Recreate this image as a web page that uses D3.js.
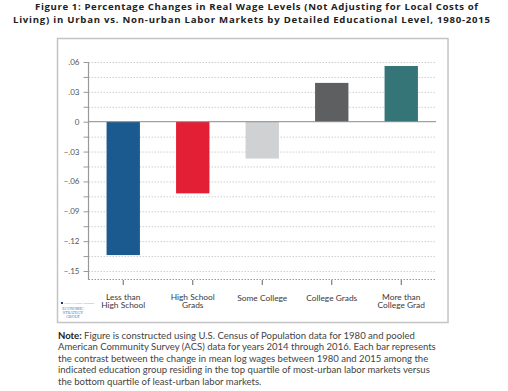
<!DOCTYPE html>
<html><head><meta charset="utf-8">
<script src="https://cdn.jsdelivr.net/npm/d3@7"></script>
<style>
body{margin:0;background:#fff;}
svg{display:block;font-family:Lato,"Open Sans",sans-serif;}
</style></head>
<body><svg id="c" width="508" height="391"></svg>
<script>
const categories = [["Less than","High School"],["High School","Grads"],["Some College"],["College Grads"],["More than","College Grad"]];
const values = [-0.134, -0.072, -0.037, 0.039, 0.056];
const colors = ["#1b5a8f","#e31f35","#d0d1d3","#5e5f61","#357577"];
const gridTicks = [0.06,0.045,0.03,0.015,0,-0.015,-0.03,-0.045,-0.06,-0.075,-0.09,-0.105,-0.12,-0.135,-0.15];
const labelTicks = [0.06,0.03,0,-0.03,-0.06,-0.09,-0.12,-0.15];
const titleLines = ["Figure 1: Percentage Changes in Real Wage Levels (Not Adjusting for Local Costs of","Living) in Urban vs. Non-urban Labor Markets by Detailed Educational Level, 1980-2015"];
const noteLines = ["Figure is constructed using U.S. Census of Population data for 1980 and pooled","American Community Survey (ACS) data for years 2014 through 2016. Each bar represents","the contrast between the change in mean log wages between 1980 and 2015 among the","indicated education group residing in the top quartile of most-urban labor markets versus","the bottom quartile of least-urban labor markets."];

const svg = d3.select("#c");
// title
const tw = [443, 477], tx = [35, 13];
titleLines.forEach((t,i)=>{
  svg.append("text").attr("x",tx[i]).attr("y",10+i*13).attr("text-anchor","start")
    .attr("font-family","'Open Sans',sans-serif")
    .attr("font-weight","bold").attr("font-size",9.6).attr("fill","#222")
    .attr("textLength",tw[i]).attr("lengthAdjust","spacing").text(t);
});
// box
svg.append("rect").attr("x",57.5).attr("y",38.5).attr("width",390.5).attr("height",284)
  .attr("fill","#fff").attr("stroke","#c4c4c4").attr("stroke-width",1.5);

const x0 = 88.5, x1 = 436;
const y = d3.scaleLinear().domain([-0.15,0.06]).range([271,62]);
const x = d3.scaleBand().domain(d3.range(values.length)).range([x0,x1]).paddingInner(0.52).paddingOuter(0.26);

// grid
svg.append("g").selectAll("line").data(gridTicks.filter(v=>v!==0)).join("line")
  .attr("x1",x0).attr("x2",x1).attr("y1",d=>y(d)+0.5).attr("y2",d=>y(d)+0.5)
  .attr("stroke","#cfcfcf").attr("stroke-width",1).attr("stroke-dasharray","1.5,1.5");
// bottom dotted axis
svg.append("line").attr("x1",x0).attr("x2",x1).attr("y1",279.5).attr("y2",279.5)
  .attr("stroke","#999").attr("stroke-dasharray","1.5,1.5");

// bars
svg.append("g").selectAll("rect").data(values).join("rect")
  .attr("x",(d,i)=>x(i)).attr("width",x.bandwidth())
  .attr("y",d=>y(Math.max(0,d))).attr("height",d=>Math.abs(y(d)-y(0)))
  .attr("fill",(d,i)=>colors[i]);

// zero line
svg.append("line").attr("x1",x0).attr("x2",x1).attr("y1",y(0)).attr("y2",y(0))
  .attr("stroke","#8a8a8a").attr("stroke-width",1);

// y axis
const fmt = v => v===0 ? "0" : d3.format(".2f")(v).replace("0.",".");
const yAxis = d3.axisLeft(y).tickValues(gridTicks).tickSize(5).tickPadding(4)
  .tickFormat(v => labelTicks.some(l=>Math.abs(l-v)<1e-9) ? fmt(v) : "");
const ga = svg.append("g").attr("transform",`translate(${x0},0)`).call(yAxis);
ga.select(".domain").remove();
ga.selectAll(".tick line").attr("stroke","#999");
ga.selectAll(".tick text").attr("fill","#555").attr("font-size",8).attr("font-family","Lato,sans-serif");
svg.append("line").attr("x1",x0).attr("x2",x0).attr("y1",y(0.06)).attr("y2",280).attr("stroke","#999").attr("stroke-width",1.2);

// x ticks & labels
const gx = svg.append("g");
values.forEach((v,i)=>{
  const cx = x(i)+x.bandwidth()/2;
  gx.append("line").attr("x1",cx).attr("x2",cx).attr("y1",280).attr("y2",285).attr("stroke","#666");
  const lines = categories[i];
  lines.forEach((t,j)=>{
    const yy = lines.length===1 ? 300.5 : 299.5+j*8.6;
    gx.append("text").attr("x",cx).attr("y",yy).attr("text-anchor","middle")
      .attr("font-size",8.4).attr("fill","#3a3a3a").text(t);
  });
});

// logo
const lg = svg.append("g").attr("font-family","Liberation Serif,serif").attr("fill","#4a6fa5").attr("text-anchor","middle");
svg.append("rect").attr("x",61).attr("y",302).attr("width",2).attr("height",2).attr("fill","#1b3a6b");
svg.append("text").attr("x",64.5).attr("y",304).attr("font-size",2.5).attr("fill","#8aa").text("THE HAMILTON PROJECT");
["ECONOMIC","STRATEGY","GROUP"].forEach((t,i)=>{
  lg.append("text").attr("x",73).attr("y",310+i*4.2).attr("font-size",4).text(t);
});

// note
const els = noteLines.map((t,i)=>{
  const el = svg.append("text").attr("x",58).attr("y",338.5+i*11.6).attr("font-size",8).attr("fill","#444");
  if(i===0){
    el.append("tspan").attr("font-weight","bold").attr("fill","#222").text("Note: ");
  }
  el.append("tspan").text(t);
  return el;
});
const w2 = els[1].node().getComputedTextLength();
const fs = 8*378/w2;
els.forEach(e=>e.attr("font-size",fs));
</script></body></html>
